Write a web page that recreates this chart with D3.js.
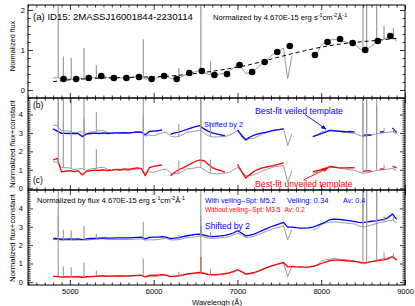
<!DOCTYPE html>
<html><head><meta charset="utf-8">
<script src="https://cdn.jsdelivr.net/npm/d3@7"></script>
<style>
html,body{margin:0;padding:0;background:#fff;}
svg{display:block;font-family:"Liberation Sans",Arial,sans-serif;}
</style></head><body>
<svg id="c" width="415" height="306"></svg>
<script>
// ---------------- data ----------------
const wave = [4800,4850,4900,4950,5000,5050,5100,5150,5200,5250,
  5300,5350,5400,5450,5500,5550,5600,5650,5700,5750,
  5800,5850,5900,5950,6000,6050,6100,6150,6200,6250,
  6300,6350,6400,6450,6500,6550,6600,6650,6700,6750,
  6800,6850,6900,6950,7000,7050,7100,7150,7200,7250,
  7300,7350,7400,7450,7500,7550,7600,7650,7700,7750,
  7800,7850,7900,7950,8000,8050,8100,8150,8200,8250,
  8300,8350,8400,8450,8500,8550,8600,8650,8700,8750,
  8800,8850,8900];
// observed spectrum, normalized flux (continuum)
const obsFlux = [0.30,0.31,0.26,0.27,0.28,0.26,0.28,0.29,0.27,0.30,
  0.31,0.33,0.34,0.31,0.30,0.31,0.30,0.31,0.30,0.32,
  0.33,0.34,0.27,0.29,0.28,0.31,0.34,0.36,0.29,0.28,
  0.30,0.35,0.41,0.43,0.46,0.49,0.45,0.39,0.37,0.38,
  0.40,0.42,0.46,0.55,0.64,0.56,0.41,0.44,0.48,0.57,
  0.67,0.76,0.85,0.93,0.98,1.05,0.28,0.86,null,null,
  null,null,0.83,0.91,1.12,1.20,1.24,1.27,1.25,1.22,
  1.20,1.17,1.15,1.05,0.98,1.02,1.10,1.17,1.22,1.27,
  1.32,1.37,1.22];
// emission lines in observed spectrum
const lineWave = [4861,4922,5016,5169,5316,5876,6300,6563,6678,8498,8542,8662,8750,8862];
const linePeak = [3.6,0.84,0.80,1.05,0.62,1.27,0.55,3.6,0.72,5.6,5.8,5.5,1.6,1.55];
// continuum fit (dashed) and binned points
const fitWave = [4800,5000,5200,5400,5600,5800,6000,6200,6400,6600,6800,7000,7200,7400,7600,7800,8000,8200,8400,8600,8800,8900];
const fitFlux = [0.21,0.255,0.28,0.30,0.31,0.32,0.33,0.35,0.39,0.44,0.50,0.57,0.66,0.77,0.88,0.98,1.07,1.14,1.19,1.23,1.27,1.29];
const circleWave = [4925,5075,5225,5375,5525,5675,5825,5975,6125,6275,6425,6575,6725,6875,7025,7175,7325,7475,7625,7925,8075,8225,8375,8525,8675,8825];
const circleFlux = [0.275,0.275,0.30,0.35,0.30,0.30,0.325,0.275,0.35,0.275,0.425,0.475,0.375,0.40,0.625,0.45,0.70,0.95,1.10,0.875,1.20,1.275,1.175,1.0,1.225,1.35];
// panel (b): flattened best-fit templates (veiled shown +2)
const veiledB = [1.22,1.10,0.98,0.98,0.97,0.98,0.96,0.80,0.95,0.97,
  0.99,0.97,1.00,0.97,0.99,1.01,1.00,1.02,1.01,1.03,
  1.06,1.05,0.90,1.08,1.10,1.12,1.17,null,0.92,1.00,
  1.05,1.12,1.20,1.28,1.35,1.40,1.22,1.10,1.00,0.95,
  0.90,0.85,null,null,1.17,0.85,0.62,0.78,0.88,0.95,
  1.00,1.05,1.10,1.15,1.18,1.22,null,null,null,null,
  null,null,0.80,0.88,0.96,1.04,1.14,1.12,1.10,1.08,
  1.06,1.08,1.05,null,0.88,0.90,0.88,null,1.05,1.08,
  null,1.28,1.02];
const unveiledB = [1.53,1.62,0.88,0.92,0.95,0.90,0.94,0.72,0.92,0.95,
  0.98,0.96,1.00,0.95,0.98,1.02,1.00,1.05,1.02,1.06,
  1.10,1.08,0.68,1.12,1.18,1.22,1.26,null,0.68,0.85,
  1.00,1.10,1.22,1.35,1.45,1.53,1.50,1.30,1.12,1.02,
  0.95,0.87,null,null,1.30,0.90,0.55,0.75,0.92,1.02,
  1.10,1.15,1.20,1.25,1.30,1.37,null,null,null,null,
  null,null,0.88,0.95,1.00,1.04,1.18,1.15,1.12,1.10,
  1.10,1.12,1.10,null,0.92,0.95,0.93,null,1.03,1.05,
  null,1.20,1.10];
// panel (c): templates normalized by flux (veiled shown +2)
const veiledC = [0.36,0.35,0.32,0.33,0.34,0.33,0.34,0.30,0.34,0.36,
  0.37,0.38,0.39,0.38,0.38,0.39,0.39,0.40,0.40,0.41,
  0.42,0.43,0.34,0.42,0.43,0.44,0.46,0.44,0.36,0.38,
  0.41,0.46,0.51,0.55,0.58,0.60,0.55,0.49,0.47,0.48,
  0.50,0.53,0.58,0.66,0.78,0.66,0.50,0.54,0.60,0.70,
  0.80,0.90,1.00,1.08,1.16,1.24,0.98,0.98,0.95,0.93,
  0.92,0.94,0.98,1.06,1.16,1.26,1.38,1.42,1.40,1.38,
  1.35,1.32,1.28,1.24,1.22,1.26,1.30,1.32,1.36,1.40,
  1.50,1.70,1.40];
const unveiledC = [0.30,0.29,0.26,0.27,0.27,0.27,0.28,0.25,0.28,0.29,
  0.30,0.31,0.32,0.31,0.31,0.32,0.32,0.33,0.33,0.34,
  0.35,0.36,0.27,0.35,0.36,0.37,0.39,0.37,0.29,0.31,
  0.34,0.38,0.43,0.46,0.49,0.51,0.47,0.41,0.39,0.40,
  0.42,0.45,0.49,0.56,0.66,0.56,0.42,0.46,0.51,0.59,
  0.68,0.77,0.86,0.93,0.99,1.05,0.82,0.84,0.82,0.81,
  0.80,0.81,0.84,0.91,1.00,1.08,1.15,1.18,1.18,1.17,
  1.15,1.13,1.11,1.07,1.03,1.06,1.10,1.13,1.17,1.20,
  1.26,1.38,1.18];
const tmplLineWave = [6563];
const tmplLineVeiled = [1.05];
const tmplLineUnveiled = [1.35];
const xTicks = [5000,6000,7000,8000,9000];
const yTicksA = [0,1,2];
const yTicksBC = [0,1,2,3,4];
const shift = 2;

// ---------------- layout ----------------
const svg = d3.select("#c");
const X0 = 28, X1 = 405;
const x = d3.scaleLinear([4500, 9000], [X0, X1]);
const P = {
  a: {top: 5, bottom: 98, y: d3.scaleLinear([-0.2, 2.125], [98, 5])},
  b: {top: 98, bottom: 190, y: d3.scaleLinear([-0.1, 4.9], [190, 98])},
  c: {top: 190, bottom: 285, y: d3.scaleLinear([-0.17, 5.0], [285, 190])}
};
const GRAY = "#9a9a9a", BLUE = "#0000ff", RED = "#ff0000";

const defs = svg.append("defs");
Object.entries(P).forEach(([k, p]) => {
  defs.append("clipPath").attr("id", "clip" + k).append("rect")
    .attr("x", X0).attr("y", p.top).attr("width", X1 - X0).attr("height", p.bottom - p.top);
});
[["arrB", BLUE], ["arrR", RED]].forEach(([id, col]) => {
  defs.append("marker").attr("id", id).attr("viewBox", "0 0 10 10").attr("refX", 9).attr("refY", 5)
    .attr("markerWidth", 6).attr("markerHeight", 6).attr("orient", "auto")
    .append("path").attr("d", "M0,1L10,5L0,9Z").attr("fill", col);
});

const fitAt = d3.scaleLinear(fitWave, fitFlux).clamp(true);
const okIdx = wave.map((w, i) => i).filter(i => obsFlux[i] != null);
const baseAt = d3.scaleLinear(okIdx.map(i => wave[i]), okIdx.map(i => obsFlux[i]));

function series(vals, tf) {
  return wave.map((w, i) => ({w, v: vals[i] == null ? null : tf(vals[i], w)}));
}
function drawLine(g, y, data, col, wdt, curve) {
  const ln = d3.line().defined(d => d.v != null).x(d => x(d.w)).y(d => y(d.v));
  if (curve) ln.curve(curve);
  return g.append("path").datum(data).attr("fill", "none").attr("stroke", col)
    .attr("stroke-width", wdt).attr("stroke-linejoin", "round").attr("d", ln);
}
function drawSpikes(g, y, tf, col, wdt) {
  const ln = d3.line().x(d => x(d.w)).y(d => y(d.v));
  lineWave.forEach((w, i) => {
    const b = baseAt(w);
    g.append("path").datum([{w, v: tf(b, w)}, {w, v: tf(linePeak[i], w)}])
      .attr("stroke", col).attr("stroke-width", wdt).attr("fill", "none").attr("d", ln);
  });
}

// ---------------- panel a ----------------
{
  const y = P.a.y;
  const g = svg.append("g").attr("clip-path", "url(#clipa)");
  drawLine(g, y, series(obsFlux, v => v), GRAY, 1);
  drawSpikes(g, y, v => v, GRAY, 1.2);
  g.append("path").datum(fitWave.map((w, i) => ({w, v: fitFlux[i]})))
    .attr("fill", "none").attr("stroke", "#000").attr("stroke-width", 1)
    .attr("stroke-dasharray", "4,3")
    .attr("d", d3.line().curve(d3.curveMonotoneX).x(d => x(d.w)).y(d => y(d.v)));
  g.selectAll("circle").data(circleWave).join("circle")
    .attr("cx", w => x(w)).attr("cy", (w, i) => y(circleFlux[i])).attr("r", 3.3).attr("fill", "#000");
}
// ---------------- panel b ----------------
{
  const y = P.b.y;
  const g = svg.append("g").attr("clip-path", "url(#clipb)");
  [0, shift].forEach(s => drawLine(g, y, series(obsFlux, (v, w) => v / fitAt(w) + s), GRAY, 1));
  drawLine(g, y, series(unveiledB, v => v), RED, 1.3);
  drawLine(g, y, series(veiledB, v => v + shift), BLUE, 1.3);
  [0, shift].forEach(s => drawSpikes(g, y, (v, w) => v / fitAt(w) + s, GRAY, 1.1));
}
// ---------------- panel c ----------------
{
  const y = P.c.y;
  const g = svg.append("g").attr("clip-path", "url(#clipc)");
  [0, shift].forEach(s => drawLine(g, y, series(obsFlux, v => v + s), GRAY, 1));
  drawLine(g, y, series(unveiledC, v => v), RED, 1.3);
  drawLine(g, y, series(veiledC, v => v + shift), BLUE, 1.3);
  const ln = d3.line().x(d => x(d.w)).y(d => y(d.v));
  const uAt = d3.scaleLinear(wave, unveiledC), vAt = d3.scaleLinear(wave, veiledC);
  tmplLineWave.forEach((w, i) => {
    g.append("path").datum([{w, v: uAt(w)}, {w, v: tmplLineUnveiled[i]}]).attr("stroke", RED).attr("stroke-width", 1.2).attr("d", ln);
    g.append("path").datum([{w, v: vAt(w) + shift}, {w, v: tmplLineVeiled[i] + shift}]).attr("stroke", BLUE).attr("stroke-width", 1.2).attr("d", ln);
  });
  [0, shift].forEach(s => drawSpikes(g, y, v => v + s, GRAY, 1.1));
}

// ---------------- axes ----------------
const xMinor = d3.range(45, 91).filter(i => i % 10 !== 0).map(i => i * 100);
function styleAxis(sel) {
  sel.select(".domain").remove();
  sel.selectAll("line").attr("stroke", "#000").attr("stroke-width", 0.8);
  sel.selectAll("text").attr("font-family", "Liberation Sans, Arial, sans-serif").attr("font-size", 7.5).attr("fill", "#000");
}
Object.entries(P).forEach(([k, p]) => {
  const y = p.y;
  const major = k === "a" ? yTicksA : yTicksBC;
  const yMinor = k === "a"
    ? d3.range(-1, 11).filter(i => i % 5 !== 0).map(i => i * 0.2)
    : d3.range(-1, 50).filter(i => i % 10 !== 0).map(i => i * 0.1);
  const lbl = k === "c";
  svg.append("g").attr("transform", `translate(0,${p.bottom})`)
    .call(d3.axisBottom(x).tickValues(xTicks).tickSizeInner(-5).tickSizeOuter(0).tickPadding(4).tickFormat(lbl ? d3.format("d") : () => ""))
    .call(styleAxis);
  svg.append("g").attr("transform", `translate(0,${p.bottom})`)
    .call(d3.axisBottom(x).tickValues(xMinor).tickSizeInner(-2.5).tickSizeOuter(0).tickFormat(() => "")).call(styleAxis);
  svg.append("g").attr("transform", `translate(0,${p.top})`)
    .call(d3.axisTop(x).tickValues(xTicks).tickSizeInner(-5).tickSizeOuter(0).tickFormat(() => "")).call(styleAxis);
  svg.append("g").attr("transform", `translate(0,${p.top})`)
    .call(d3.axisTop(x).tickValues(xMinor).tickSizeInner(-2.5).tickSizeOuter(0).tickFormat(() => "")).call(styleAxis);
  svg.append("g").attr("transform", `translate(${X0},0)`)
    .call(d3.axisLeft(y).tickValues(major).tickSizeInner(-5).tickSizeOuter(0).tickPadding(k === "a" ? 3 : 5).tickFormat(d3.format("d")))
    .call(styleAxis);
  svg.append("g").attr("transform", `translate(${X0},0)`)
    .call(d3.axisLeft(y).tickValues(yMinor).tickSizeInner(-2.5).tickSizeOuter(0).tickFormat(() => "")).call(styleAxis);
  svg.append("g").attr("transform", `translate(${X1},0)`)
    .call(d3.axisRight(y).tickValues(major).tickSizeInner(-5).tickSizeOuter(0).tickFormat(() => "")).call(styleAxis);
  svg.append("g").attr("transform", `translate(${X1},0)`)
    .call(d3.axisRight(y).tickValues(yMinor).tickSizeInner(-2.5).tickSizeOuter(0).tickFormat(() => "")).call(styleAxis);
  svg.append("rect").attr("x", X0).attr("y", p.top).attr("width", X1 - X0).attr("height", p.bottom - p.top)
    .attr("fill", "none").attr("stroke", "#000").attr("stroke-width", 1);
});

// ---------------- texts ----------------
function txt(xp, yp, s, size, col, anchor) {
  return svg.append("text").attr("x", xp).attr("y", yp).attr("font-size", size)
    .attr("fill", col || "#000").attr("text-anchor", anchor || "start").text(s);
}
function unitsText(xp, yp, prefix, size) {
  const t = svg.append("text").attr("x", xp).attr("y", yp).attr("font-size", size).attr("fill", "#000");
  const parts = [[prefix + "erg s", 0], ["-1", 1], ["cm", 0], ["-2", 1], ["Å", 0], ["-1", 1]];
  let up = false;
  parts.forEach(([s, sup]) => {
    const ts = t.append("tspan").text(s);
    if (sup) { ts.attr("font-size", size * 0.7).attr("dy", up ? 0 : -3); up = true; }
    else { ts.attr("dy", up ? 3 : 0); up = false; }
  });
  return t;
}
txt(33, 19.5, "(a) ID15:  2MASSJ16001844-2230114", 9.6);
unitsText(213, 20, "Normalized by  4.670E-15 ", 7.6);
txt(33, 107.5, "(b)", 8.5);
txt(33, 183, "(c)", 8.5);
txt(204, 126.5, "Shifted by 2", 7.4, BLUE);
txt(255, 113.5, "Best-fit veiled template", 8.7, BLUE);
txt(255, 186.5, "Best-fit unveiled template", 8.7, RED);
{
  const y = P.b.y;
  svg.append("line").attr("x1", x(7807)).attr("y1", y(4.0)).attr("x2", x(8058)).attr("y2", y(3.2))
    .attr("stroke", BLUE).attr("stroke-width", 0.9).attr("marker-end", "url(#arrB)");
  svg.append("line").attr("x1", x(7790)).attr("y1", y(0.45)).attr("x2", x(8082)).attr("y2", y(1.1))
    .attr("stroke", RED).attr("stroke-width", 0.9).attr("marker-end", "url(#arrR)");
}
unitsText(37, 203, "Normalized by flux  4.670E-15 ", 7.6);
txt(205, 203, "With veiling--Spt: M5.2", 7, BLUE);
txt(287, 203, "Veiling: 0.34", 7.6, BLUE);
txt(343, 203, "Av: 0.4", 7.2, BLUE);
txt(205, 212, "Without veiling--Spt: M3.5", 6.6, RED);
txt(284.5, 212, "Av: 0.2", 6.6, RED);
txt(205, 228.5, "Shifted by 2", 8.5, BLUE);

// axis titles
function vlabel(cy, s, size) {
  svg.append("text").attr("transform", `translate(14.5,${cy}) rotate(-90)`)
    .attr("text-anchor", "middle").attr("font-size", size).attr("fill", "#000").text(s);
}
vlabel(46, "Normalized flux", 7.3);
vlabel(144, "Normalized flux+constant", 7.8);
vlabel(238, "Normalized flux+constant", 7.8);
txt(217, 304.5, "Wavelengh (Å)", 7.6, "#000", "middle");
</script>
</body></html>
